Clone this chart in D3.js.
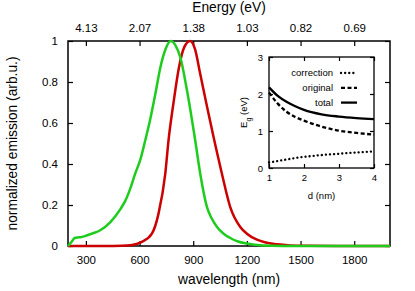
<!DOCTYPE html>
<html>
<head>
<meta charset="utf-8">
<script src="https://cdn.jsdelivr.net/npm/d3@7"></script>
<style>
  body { margin: 0; background: #fff; }
  svg { font-family: "Liberation Sans", Arial, sans-serif; }
  .tick text { fill: #000; }
</style>
</head>
<body>
<svg id="chart"></svg>
<script>
// Emission spectra (wavelength in nm, normalized intensity)
var greenNm  = [200, 215, 240, 255, 270, 300, 340, 380, 437, 493, 520, 548, 576, 604, 632, 660, 690, 716, 745, 775, 800, 828, 865, 911, 939, 977, 1000, 1033, 1070, 1107, 1150, 1200, 1290, 1400, 1600, 2000];
var greenVal = [0, 0.015, 0.04, 0.042, 0.043, 0.05, 0.062, 0.077, 0.117, 0.18, 0.22, 0.28, 0.354, 0.42, 0.516, 0.62, 0.75, 0.87, 0.96, 1.0, 0.98, 0.92, 0.76, 0.516, 0.354, 0.19, 0.14, 0.093, 0.06, 0.039, 0.022, 0.012, 0.003, 0.0005, 0, 0];

var redNm  = [200, 400, 500, 558, 613, 669, 706, 744, 762, 790, 820, 850, 883, 910, 939, 977, 1014, 1060, 1107, 1163, 1200, 1256, 1300, 1368, 1442, 1550, 1700, 2000];
var redVal = [0, 0, 0.001, 0.005, 0.02, 0.06, 0.158, 0.354, 0.516, 0.7, 0.87, 0.97, 1.0, 0.96, 0.84, 0.68, 0.53, 0.354, 0.19, 0.093, 0.06, 0.031, 0.018, 0.008, 0.003, 0.001, 0, 0];

// Inset: band gap vs size
var dNm        = [1, 1.25, 1.5, 1.75, 2, 2.5, 3, 3.5, 4];
var correction = [0.15, 0.19, 0.23, 0.27, 0.30, 0.35, 0.385, 0.42, 0.45];
var original   = [2.04, 1.74, 1.52, 1.38, 1.28, 1.12, 1.01, 0.95, 0.90];
var total      = [2.18, 1.95, 1.79, 1.67, 1.57, 1.45, 1.39, 1.35, 1.32];

var xTicks = [300, 600, 900, 1200, 1500, 1800];
var energyLabels = ["4.13", "2.07", "1.38", "1.03", "0.82", "0.69"];
var yTicks = [0, 0.2, 0.4, 0.6, 0.8, 1];

var W = 415, H = 291,
    mL = 68, mR = 390, mT = 41, mB = 246;   // plot frame

var svg = d3.select("#chart").attr("width", W).attr("height", H);

var x = d3.scaleLinear().domain([200, 2000]).range([mL, mR]);
var y = d3.scaleLinear().domain([0, 1]).range([mB, mT]);

function styleAxis(g, fs) {
    g.select(".domain").remove();
    g.selectAll(".tick line").attr("stroke", "#000").attr("stroke-width", 1.2);
    g.selectAll(".tick text").style("font-size", fs + "px");
}

// bottom axis
svg.append("g").attr("transform", "translate(0," + mB + ")")
    .call(d3.axisBottom(x).tickValues(xTicks).tickSizeInner(-5).tickPadding(10).tickFormat(d3.format("d")))
    .call(styleAxis, 11.5);

// top axis (energy)
svg.append("g").attr("transform", "translate(0," + mT + ")")
    .call(d3.axisTop(x).tickValues(xTicks).tickSizeInner(-5).tickPadding(9)
        .tickFormat(function (d, i) { return energyLabels[i]; }))
    .call(styleAxis, 11.5);

// left axis
svg.append("g").attr("transform", "translate(" + mL + ",0)")
    .call(d3.axisLeft(y).tickValues(yTicks).tickSizeInner(-5).tickPadding(10).tickFormat(d3.format("")))
    .call(styleAxis, 11.5);

// right mirror ticks
svg.append("g").attr("transform", "translate(" + mR + ",0)")
    .call(d3.axisRight(y).tickValues(yTicks).tickSizeInner(-5).tickFormat(""))
    .call(styleAxis, 11.5);

svg.append("rect")
    .attr("x", mL).attr("y", mT)
    .attr("width", mR - mL).attr("height", mB - mT)
    .attr("fill", "none").attr("stroke", "#000").attr("stroke-width", 1.5);

// axis titles
svg.append("text").attr("x", (mL + mR) / 2).attr("y", 12)
    .attr("text-anchor", "middle").style("font-size", "13.8px").text("Energy (eV)");
svg.append("text").attr("x", (mL + mR) / 2).attr("y", 284)
    .attr("text-anchor", "middle").style("font-size", "13.8px").text("wavelength (nm)");
svg.append("text")
    .attr("transform", "translate(17," + ((mT + mB) / 2) + ") rotate(-90)")
    .attr("text-anchor", "middle").style("font-size", "13.8px").text("normalized emission (arb.u.)");

// spectra
var line = d3.line()
    .x(function (d) { return x(d[0]); })
    .y(function (d) { return y(d[1]); })
    .curve(d3.curveMonotoneX);

svg.append("path").datum(d3.zip(redNm, redVal))
    .attr("d", line).attr("fill", "none")
    .attr("stroke", "#cc0000").attr("stroke-width", 2.5);

svg.append("path").datum(d3.zip(greenNm, greenVal))
    .attr("d", line).attr("fill", "none")
    .attr("stroke", "#1ecc1e").attr("stroke-width", 2.5);

// ---- inset ----
var il = 269, ir = 374, it = 57, ib = 168;
var ix = d3.scaleLinear().domain([1, 4]).range([il, ir]);
var iy = d3.scaleLinear().domain([0, 3]).range([ib, it]);

var inset = svg.append("g");
inset.append("rect").attr("x", il).attr("y", it)
    .attr("width", ir - il).attr("height", ib - it).attr("fill", "#fff");

inset.append("g").attr("transform", "translate(0," + ib + ")")
    .call(d3.axisBottom(ix).tickValues([1, 2, 3, 4]).tickSizeInner(-4).tickPadding(6).tickFormat(d3.format("d")))
    .call(styleAxis, 9.5);
inset.append("g").attr("transform", "translate(0," + it + ")")
    .call(d3.axisTop(ix).tickValues([1, 2, 3, 4]).tickSizeInner(-4).tickFormat(""))
    .call(styleAxis, 9.5);
inset.append("g").attr("transform", "translate(" + il + ",0)")
    .call(d3.axisLeft(iy).tickValues([0, 1, 2, 3]).tickSizeInner(-4).tickPadding(6).tickFormat(d3.format("d")))
    .call(styleAxis, 9.5);
inset.append("g").attr("transform", "translate(" + ir + ",0)")
    .call(d3.axisRight(iy).tickValues([0, 1, 2, 3]).tickSizeInner(-4).tickFormat(""))
    .call(styleAxis, 9.5);

inset.append("rect").attr("x", il).attr("y", it)
    .attr("width", ir - il).attr("height", ib - it)
    .attr("fill", "none").attr("stroke", "#000").attr("stroke-width", 1.3);

inset.append("text").attr("x", (il + ir) / 2).attr("y", 199)
    .attr("text-anchor", "middle").style("font-size", "9.5px").text("d (nm)");
var eg = inset.append("text")
    .attr("transform", "translate(247," + ((it + ib) / 2) + ") rotate(-90)")
    .attr("text-anchor", "middle").style("font-size", "9.5px");
eg.append("tspan").text("E");
eg.append("tspan").attr("baseline-shift", "sub").style("font-size", "7px").text("g");
eg.append("tspan").text(" (eV)");

var iline = d3.line()
    .x(function (d) { return ix(d[0]); })
    .y(function (d) { return iy(d[1]); })
    .curve(d3.curveMonotoneX);

var series = [
    { name: "correction", vals: correction, dash: "0.1,4", cap: "round" },
    { name: "original", vals: original, dash: "4,2.5", cap: "butt" },
    { name: "total", vals: total, dash: null, cap: "butt" }
];

series.forEach(function (s, i) {
    inset.append("path").datum(d3.zip(dNm, s.vals))
        .attr("d", iline).attr("fill", "none")
        .attr("stroke", "#000").attr("stroke-width", 2.3)
        .attr("stroke-dasharray", s.dash).attr("stroke-linecap", s.cap);

    var ly = 73 + i * 14.8;
    inset.append("text").attr("x", 333).attr("y", ly + 3.3)
        .attr("text-anchor", "end").style("font-size", "9.5px").text(s.name);
    inset.append("line").attr("x1", 341).attr("x2", 357).attr("y1", ly).attr("y2", ly)
        .attr("stroke", "#000").attr("stroke-width", 2.3)
        .attr("stroke-dasharray", s.dash).attr("stroke-linecap", s.cap);
});
</script>
</body>
</html>
